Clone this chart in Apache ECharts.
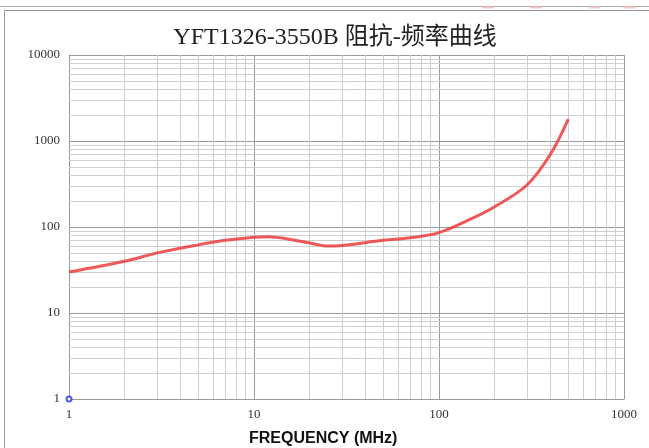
<!DOCTYPE html>
<html><head><meta charset="utf-8">
<script src="https://cdn.jsdelivr.net/npm/echarts@6/dist/echarts.min.js"></script>
<style>html,body{margin:0;padding:0;background:#fff}#c{width:649px;height:448px}</style>
</head><body><div id="c"></div>
<script>
const titleText = 'YFT1326-3550B 阻抗-频率曲线';
const xTitle = 'FREQUENCY (MHz)';
const freq = [1, 2, 3, 5, 7, 10, 12, 15, 20, 25, 30, 50, 70, 100, 150, 200, 300, 400, 500];
const impedance = [30, 40, 50, 62, 70, 76, 77, 73, 65, 60, 61, 70, 75, 86, 125, 172, 310, 700, 1800];
const markerPoint = [[1, 1]];
const xMinorGrid = [2,3,4,5,6,7,8,9,20,30,40,50,60,70,80,90,200,300,400,500,600,700,800,900];
const yMinorGrid = [2,3,4,5,6,7,8,9,20,30,40,50,60,70,80,90,200,300,400,500,600,700,800,900,2000,3000,4000,5000,6000,7000,8000,9000];

const chart = echarts.init(document.getElementById('c'), null, {renderer: 'canvas'});
const minorLines = xMinorGrid.map(v => ({xAxis: v})).concat(yMinorGrid.map(v => ({yAxis: v})));
const plain = v => String(Math.round(v));
chart.setOption({
  animation: false,
  title: {text: titleText, left: 330, top: 21, textAlign: 'center',
    textStyle: {fontFamily: '"Liberation Serif", "Noto Sans CJK SC", serif', fontSize: 24, fontWeight: 'normal', color: '#222'}},
  grid: {left: 69, right: 25, top: 55, bottom: 49},
  graphic: [
    {type: 'line', shape: {x1: 0, y1: 6.5, x2: 649, y2: 6.5}, style: {stroke: '#aaa', lineWidth: 1}},
    {type: 'line', shape: {x1: 4.5, y1: 10.5, x2: 649, y2: 10.5}, style: {stroke: '#999', lineWidth: 1}},
    {type: 'line', shape: {x1: 4.5, y1: 10.5, x2: 4.5, y2: 448}, style: {stroke: '#999', lineWidth: 1}},
    {type: 'line', shape: {x1: 482, y1: 7.5, x2: 494, y2: 7.5}, style: {stroke: '#f6c8c8', lineWidth: 2}},
    {type: 'line', shape: {x1: 530, y1: 7.5, x2: 542, y2: 7.5}, style: {stroke: '#f6c8c8', lineWidth: 2}},
    {type: 'line', shape: {x1: 589, y1: 7.5, x2: 600, y2: 7.5}, style: {stroke: '#f6c8c8', lineWidth: 2}},
    {type: 'line', shape: {x1: 623, y1: 7.5, x2: 636, y2: 7.5}, style: {stroke: '#f6c8c8', lineWidth: 2}},
    {type: 'text', left: 249, top: 431, style: {text: xTitle, fill: '#111', font: 'bold 16px "Liberation Sans", Arial, sans-serif'}}
  ],
  xAxis: {type: 'log', logBase: 10, min: 1, max: 1000,
    axisLine: {show: true, lineStyle: {color: '#999'}}, axisTick: {show: false},
    axisLabel: {color: '#333', fontFamily: '"Liberation Serif", serif', fontSize: 13, margin: 9, formatter: plain},
    splitLine: {show: true, lineStyle: {color: '#9a9a9a', width: 1}}},
  yAxis: {type: 'log', logBase: 10, min: 1, max: 10000,
    axisLine: {show: true, lineStyle: {color: '#999'}}, axisTick: {show: false},
    axisLabel: {color: '#333', fontFamily: '"Liberation Serif", serif', fontSize: 13, margin: 9, formatter: plain},
    splitLine: {show: true, lineStyle: {color: '#9a9a9a', width: 1}}},
  series: [
    {type: 'scatter', data: markerPoint, symbol: 'emptyCircle', symbolSize: 5, z: 5,
      itemStyle: {color: '#2233ee', borderColor: '#2233ee', borderWidth: 1.5},
      markLine: {silent: true, symbol: 'none', label: {show: false},
        lineStyle: {color: '#cfcfcf', type: 'solid', width: 1}, data: minorLines, z: 1}},
    {type: 'scatter', data: [[1000, 10000]], symbolSize: 0, silent: true,
      markLine: {silent: true, symbol: 'none', label: {show: false},
        lineStyle: {color: '#9a9a9a', type: 'solid', width: 1}, data: [{xAxis: 1000}], z: 2}},
    {type: 'line', data: freq.map((f, i) => [f, impedance[i]]), smooth: 0.35, showSymbol: false, z: 4,
      lineStyle: {color: 'rgba(235,60,60,0.85)', width: 3}}
  ]
});
</script></body></html>
